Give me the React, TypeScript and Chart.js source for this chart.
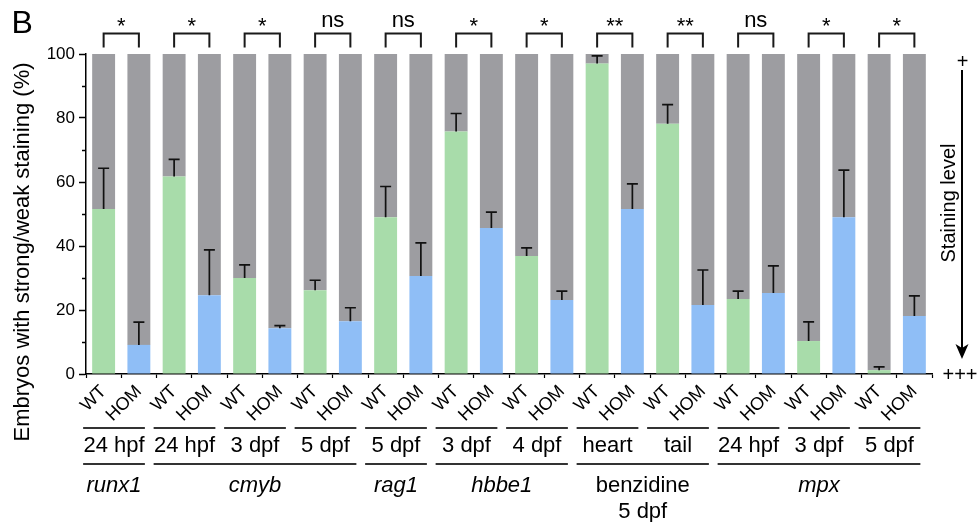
import { useEffect, useRef } from 'react';
import { Chart, registerables } from 'chart.js';

Chart.register(...registerables);

const FONT = '"Liberation Sans", Arial, Helvetica, sans-serif';

// ---- data ----
const barLabels = [
  'WT', 'HOM', 'WT', 'HOM', 'WT', 'HOM', 'WT', 'HOM', 'WT', 'HOM', 'WT', 'HOM',
  'WT', 'HOM', 'WT', 'HOM', 'WT', 'HOM', 'WT', 'HOM', 'WT', 'HOM', 'WT', 'HOM',
];
// % embryos with strong/weak staining (coloured part of each bar)
const stainedPct = [
  51.6, 9.1, 61.7, 24.6, 30.0, 14.3, 26.2, 16.5, 49.0, 30.6, 75.8, 45.6,
  36.9, 23.1, 97.0, 51.6, 78.2, 21.6, 23.4, 25.3, 10.3, 49.0, 1.2, 18.1,
];
// top of the (upper) error bar
const errorTop = [
  64.3, 16.2, 67.1, 38.8, 34.1, 15.1, 29.3, 20.7, 58.6, 41.0, 81.4, 50.6,
  39.4, 25.9, 99.4, 59.4, 84.2, 32.5, 25.9, 33.8, 16.3, 63.7, 2.2, 24.4,
];
// the rest of each bar up to 100 %
const remainderPct = stainedPct.map((v) => 100 - v);

const stageLabels = [
  '24 hpf', '24 hpf', '3 dpf', '5 dpf', '5 dpf', '3 dpf',
  '4 dpf', 'heart', 'tail', '24 hpf', '3 dpf', '5 dpf',
];
const significance = ['*', '*', '*', 'ns', 'ns', '*', '*', '**', '**', 'ns', '*', '*'];

const markerNames = ['runx1', 'cmyb', 'rag1', 'hbbe1', 'benzidine', 'mpx'];
const markerSubtitle = ['', '', '', '', '5 dpf', ''];
const markerItalic = [true, true, true, true, false, true];
const markerFirstGroup = [0, 1, 4, 5, 7, 9];
const markerLastGroup = [0, 3, 4, 6, 8, 11];

const yTickValues = [0, 20, 40, 60, 80, 100];
const yMinorTicks = [10, 30, 50, 70, 90];

const COLOR_WT = '#a8dcaa';
const COLOR_HOM = '#8fbef6';
const COLOR_REST = '#9d9da1';

const overlayPlugin = {
  id: 'overlay',
  afterDatasetsDraw(chart: any) {
    const { ctx } = chart;
    const xs = chart.scales.x;
    const ys = chart.scales.y;
    ctx.save();
    ctx.strokeStyle = '#111';
    ctx.lineWidth = 1.7;
    stainedPct.forEach((v, i) => {
      const cx = xs.getPixelForValue(i);
      const y0 = ys.getPixelForValue(v);
      const y1 = ys.getPixelForValue(errorTop[i]);
      ctx.beginPath();
      ctx.moveTo(cx, y0);
      ctx.lineTo(cx, y1);
      ctx.moveTo(cx - 5.5, y1);
      ctx.lineTo(cx + 5.5, y1);
      ctx.stroke();
    });
    ctx.restore();
  },
  afterDraw(chart: any) {
    const { ctx, chartArea } = chart;
    const xs = chart.scales.x;
    const ys = chart.scales.y;
    const top = chartArea.top;
    const bottom = chartArea.bottom;
    ctx.save();

    // minor y ticks
    ctx.strokeStyle = '#000';
    ctx.lineWidth = 1.5;
    yMinorTicks.forEach((v) => {
      const py = Math.round(ys.getPixelForValue(v)) + 0.5;
      ctx.beginPath();
      ctx.moveTo(chartArea.left - 4, py);
      ctx.lineTo(chartArea.left, py);
      ctx.stroke();
    });

    // significance brackets
    ctx.strokeStyle = '#1a1a1a';
    ctx.lineWidth = 2;
    ctx.fillStyle = '#000';
    ctx.textAlign = 'center';
    ctx.textBaseline = 'alphabetic';
    significance.forEach((s, g) => {
      const xl = xs.getPixelForValue(2 * g);
      const xr = xs.getPixelForValue(2 * g + 1);
      const yb = top - 20.5;
      ctx.beginPath();
      ctx.moveTo(xl, top - 6.5);
      ctx.lineTo(xl, yb);
      ctx.lineTo(xr, yb);
      ctx.lineTo(xr, top - 6.5);
      ctx.stroke();
      ctx.font = `22px ${FONT}`;
      const baseY = s === 'ns' ? top - 27.5 : top - 21;
      ctx.fillText(s, (xl + xr) / 2, baseY);
    });

    // stage labels with lines
    const lineL = (g: number) => xs.getPixelForValue(2 * g) - 20.5;
    const lineR = (g: number) => xs.getPixelForValue(2 * g + 1) + 6;
    ctx.strokeStyle = '#333';
    ctx.lineWidth = 2;
    ctx.font = `22px ${FONT}`;
    stageLabels.forEach((lab, g) => {
      const l = lineL(g);
      const r = lineR(g);
      ctx.beginPath();
      ctx.moveTo(l, bottom + 54);
      ctx.lineTo(r, bottom + 54);
      ctx.stroke();
      ctx.fillText(lab, (l + r) / 2, bottom + 77.5);
    });

    // marker labels with lines
    markerNames.forEach((name, m) => {
      const l = lineL(markerFirstGroup[m]);
      const r = lineR(markerLastGroup[m]);
      ctx.beginPath();
      ctx.moveTo(l, bottom + 90);
      ctx.lineTo(r, bottom + 90);
      ctx.stroke();
      ctx.font = `${markerItalic[m] ? 'italic ' : ''}22px ${FONT}`;
      ctx.fillText(name, (l + r) / 2, bottom + 118);
      if (markerSubtitle[m]) {
        ctx.font = `22px ${FONT}`;
        ctx.fillText(markerSubtitle[m], (l + r) / 2, bottom + 144);
      }
    });

    // y-axis title
    ctx.save();
    ctx.translate(29, 252);
    ctx.rotate(-Math.PI / 2);
    ctx.font = `22px ${FONT}`;
    ctx.textAlign = 'center';
    ctx.fillText('Embryos with strong/weak staining (%)', 0, 0);
    ctx.restore();

    // panel letter
    ctx.font = `32px ${FONT}`;
    ctx.textAlign = 'left';
    ctx.fillText('B', 11.5, 33);

    // staining level arrow
    const ax = 962;
    ctx.strokeStyle = '#000';
    ctx.lineWidth = 2;
    ctx.beginPath();
    ctx.moveTo(ax, 70);
    ctx.lineTo(ax, 348);
    ctx.stroke();
    ctx.beginPath();
    ctx.moveTo(ax, 359);
    ctx.lineTo(ax - 6.5, 344);
    ctx.lineTo(ax, 348);
    ctx.lineTo(ax + 6.5, 344);
    ctx.closePath();
    ctx.fill();

    ctx.font = `20px ${FONT}`;
    ctx.textAlign = 'center';
    ctx.fillText('+', ax + 0.5, 67.8);
    ctx.textAlign = 'left';
    ctx.fillText('+++', 942.5, 380.5);

    ctx.save();
    ctx.translate(955, 203);
    ctx.rotate(-Math.PI / 2);
    ctx.textAlign = 'center';
    ctx.font = `20px ${FONT}`;
    ctx.fillText('Staining level', 0, 0);
    ctx.restore();

    ctx.restore();
  },
};

export default function App() {
  const canvasRef = useRef<HTMLCanvasElement | null>(null);

  useEffect(() => {
    if (!canvasRef.current) return;
    const chart = new Chart(canvasRef.current, {
      type: 'bar',
      data: {
        labels: barLabels,
        datasets: [
          {
            label: 'strong/weak',
            data: stainedPct,
            backgroundColor: barLabels.map((l) => (l === 'WT' ? COLOR_WT : COLOR_HOM)),
            borderWidth: 0,
            barPercentage: 0.65,
            categoryPercentage: 1,
          },
          {
            label: 'rest',
            data: remainderPct,
            backgroundColor: COLOR_REST,
            borderWidth: 0,
            barPercentage: 0.65,
            categoryPercentage: 1,
          },
        ],
      },
      options: {
        responsive: false,
        animation: false,
        devicePixelRatio: 1,
        layout: { padding: { left: 0, right: 47, top: 54, bottom: 0 } },
        plugins: {
          legend: { display: false },
          tooltip: { enabled: false },
          title: { display: false },
        },
        scales: {
          x: {
            stacked: true,
            offset: true,
            grid: {
              display: true,
              drawOnChartArea: false,
              drawTicks: true,
              tickLength: 4,
              tickColor: '#000',
              tickWidth: 1.2,
            },
            border: { display: true, color: '#000', width: 1.5 },
            ticks: {
              autoSkip: false,
              maxRotation: 45,
              minRotation: 45,
              padding: 3,
              color: '#000',
              font: { family: FONT, size: 18 },
            },
            afterFit: (scale: any) => {
              scale.height = 148;
            },
          },
          y: {
            stacked: true,
            min: 0,
            max: 100,
            grid: {
              display: true,
              drawOnChartArea: false,
              drawTicks: true,
              tickLength: 7,
              tickColor: '#000',
              tickWidth: 1.5,
            },
            border: { display: true, color: '#000', width: 1.5 },
            afterBuildTicks: (scale: any) => {
              scale.ticks = yTickValues.map((v) => ({ value: v }));
            },
            ticks: {
              padding: 4,
              color: '#000',
              font: { family: FONT, size: 17 },
            },
            afterFit: (scale: any) => {
              scale.width = 86;
            },
          },
        },
      },
      plugins: [overlayPlugin],
    });
    return () => chart.destroy();
  }, []);

  return (
    <div style={{ position: 'absolute', left: 0, top: 0, width: 979, height: 522, background: '#fff' }}>
      <canvas ref={canvasRef} width={979} height={522} style={{ display: 'block' }} />
    </div>
  );
}
